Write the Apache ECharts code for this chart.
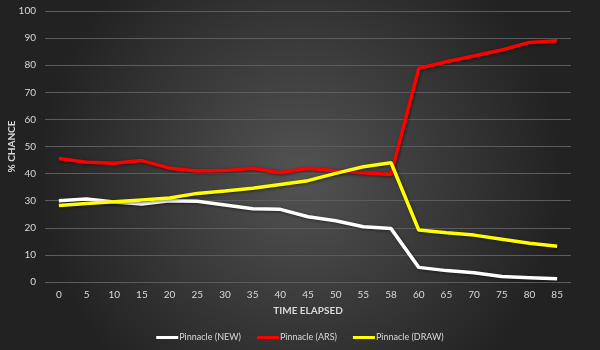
<!DOCTYPE html>
<html>
<head>
<meta charset="utf-8">
<script src="https://cdn.jsdelivr.net/npm/echarts@6/dist/echarts.min.js"></script>
<style>html,body{margin:0;padding:0;background:#333;}#c{width:600px;height:350px;}</style>
</head>
<body>
<div id="c"></div>
<script>
const categories = ['0','5','10','15','20','25','30','35','40','45','50','55','58','60','65','70','75','80','85'];
const seriesNames = ['Pinnacle (NEW)', 'Pinnacle (ARS)', 'Pinnacle (DRAW)'];
const newValues  = [30, 30.6, 29.5, 28.8, 30, 29.8, 28.4, 27, 26.8, 24.1, 22.6, 20.4, 19.7, 5.4, 4.2, 3.4, 2, 1.6, 1.2];
const arsValues  = [45.6, 44.2, 43.8, 44.8, 42, 41, 41.1, 42, 40.3, 42, 41, 40.3, 39.7, 78.8, 81.3, 83.4, 85.6, 88.4, 89];
const drawValues = [28.2, 29, 29.6, 30.3, 31, 32.7, 33.6, 34.6, 36, 37.4, 40.1, 42.5, 44, 19.2, 18.2, 17.3, 15.8, 14.3, 13.2];
const yTicks = {min: 0, max: 100, interval: 10};
const colors = ['#ffffff', '#ff0000', '#ffff00'];

const chart = echarts.init(document.getElementById('c'), null, {renderer: 'canvas'});
const font = 'Lato, "Open Sans", sans-serif';
function mk(name, data, color) {
  return {
    name: name, type: 'line', data: data, symbol: 'none', smooth: false,
    lineStyle: {color: color, width: 3.5, shadowColor: 'rgba(0,0,0,0.5)', shadowBlur: 3, shadowOffsetX: 1, shadowOffsetY: 1},
    itemStyle: {color: color}
  };
}
chart.setOption({
  backgroundColor: {
    type: 'radial', x: 0.5, y: 0.5, r: 0.75,
    colorStops: [{offset: 0, color: '#535353'}, {offset: 1, color: '#222222'}]
  },
  animation: false,
  grid: {left: 45, right: 29, top: 11, bottom: 68, containLabel: false, outerBoundsMode: 'none'},
  legend: {
    top: 328, left: 'center', itemWidth: 22, itemHeight: 3, itemGap: 16, icon: 'rect',
    data: seriesNames,
    textStyle: {color: '#d9d9d9', fontSize: 9, fontFamily: font, padding: [0, 0, 0, -4]}
  },
  xAxis: {
    type: 'category', data: categories, boundaryGap: true,
    name: 'TIME ELAPSED', nameLocation: 'middle', nameGap: 24, nameMoveOverlap: false,
    nameTextStyle: {color: '#d9d9d9', fontSize: 10, fontWeight: 'bold', fontFamily: font},
    axisLine: {show: false}, axisTick: {show: false},
    axisLabel: {color: '#d9d9d9', fontSize: 10, fontFamily: font, margin: 8, interval: 0}
  },
  yAxis: {
    type: 'value', min: yTicks.min, max: yTicks.max, interval: yTicks.interval,
    name: '% CHANCE', nameLocation: 'middle', nameGap: 28, nameRotate: 90, nameMoveOverlap: false,
    nameTextStyle: {color: '#d9d9d9', fontSize: 10, fontWeight: 'bold', fontFamily: font},
    axisLine: {show: false}, axisTick: {show: false},
    axisLabel: {color: '#d9d9d9', fontSize: 10, fontFamily: font, margin: 9},
    splitLine: {lineStyle: {color: '#5c5c5c', width: 1}}
  },
  series: [
    mk(seriesNames[0], newValues, colors[0]),
    mk(seriesNames[1], arsValues, colors[1]),
    mk(seriesNames[2], drawValues, colors[2])
  ]
});
</script>
</body>
</html>
